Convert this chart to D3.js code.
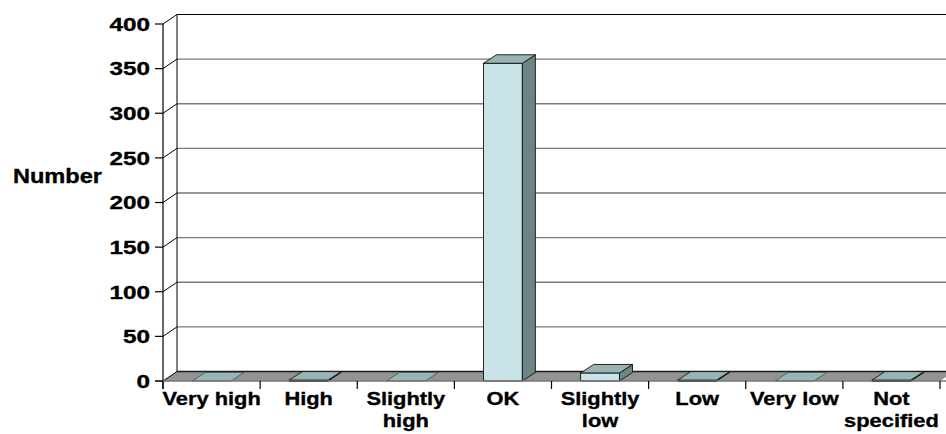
<!DOCTYPE html>
<html>
<head>
<meta charset="utf-8">
<script src="https://cdn.jsdelivr.net/npm/d3@7"></script>
<style>
  html, body { margin: 0; padding: 0; background: #fff; }
  svg { display: block; }
  text { font-family: "Liberation Sans", Arial, sans-serif; font-weight: bold; fill: #000; stroke: #000; stroke-width: 0.35px; }
</style>
</head>
<body>
<svg id="chart" width="946" height="434"></svg>
<script>
// Category names along the floor
const categories = ["Very high", "High", "Slightly high", "OK", "Slightly low", "Low", "Very low", "Not specified"];
// Count in each category
const values = [0, 1, 0, 356, 9, 1, 0, 1];
// Value axis ticks
const yTicks = [0, 50, 100, 150, 200, 250, 300, 350, 400];
const yTitle = "Number";

const W = 946, H = 434;
const plotLeft = 163, plotRight = 940, plotBase = 381, plotTop = 24;
const DX = 14, DY = -9.5;      // wall depth offset
const BDX = 13, BDY = -8.5;    // bar depth offset

const svg = d3.select("#chart");

const y = d3.scaleLinear().domain([0, 400]).range([plotBase, plotTop]);
const xCat = d3.scaleBand().domain(categories).range([plotLeft, plotRight]).padding(0);
const xBar = d3.scaleBand().domain(categories).range([plotLeft, plotRight]).paddingInner(0.6).paddingOuter(0.3);

const pts = a => a.map(p => p.join(",")).join(" ");

// back wall
svg.append("polygon")
  .attr("points", pts([[plotLeft + DX, y(400) + DY], [W + 20, y(400) + DY], [W + 20, plotBase + DY], [plotLeft + DX, plotBase + DY]]))
  .attr("fill", "#fff");

// gridlines on the back wall
svg.append("g").selectAll("line").data(yTicks.filter(v => v > 0 && v < 400)).join("line")
  .attr("x1", plotLeft + DX).attr("x2", W + 20)
  .attr("y1", v => y(v) + DY).attr("y2", v => y(v) + DY)
  .attr("stroke", "#7a7a7a").attr("stroke-width", 1.3);

// top edge of back wall
svg.append("line")
  .attr("x1", plotLeft + DX).attr("x2", W + 20)
  .attr("y1", y(400) + DY).attr("y2", y(400) + DY)
  .attr("stroke", "#000").attr("stroke-width", 1.2);

// left edge of back wall
svg.append("line")
  .attr("x1", plotLeft + DX).attr("x2", plotLeft + DX)
  .attr("y1", y(400) + DY).attr("y2", plotBase + DY)
  .attr("stroke", "#000").attr("stroke-width", 1);

// diagonals across the side wall
svg.append("g").selectAll("line").data(yTicks.filter(v => v > 0)).join("line")
  .attr("x1", plotLeft).attr("x2", plotLeft + DX)
  .attr("y1", v => y(v)).attr("y2", v => y(v) + DY)
  .attr("stroke", "#000").attr("stroke-width", 1);

// floor
svg.append("polygon")
  .attr("points", pts([[plotLeft, plotBase], [plotRight, plotBase], [plotRight + DX, plotBase + DY], [plotLeft + DX, plotBase + DY]]))
  .attr("fill", "#939393");
svg.append("line")
  .attr("x1", plotLeft + DX).attr("x2", plotRight + DX)
  .attr("y1", plotBase + DY).attr("y2", plotBase + DY)
  .attr("stroke", "#1a1a1a").attr("stroke-width", 1.6);
svg.append("line")
  .attr("x1", plotLeft).attr("x2", plotLeft + DX)
  .attr("y1", plotBase).attr("y2", plotBase + DY)
  .attr("stroke", "#000").attr("stroke-width", 1);

// bars
const data = categories.map((c, i) => ({ c, v: values[i] }));
const bars = svg.append("g").selectAll("g").data(data).join("g");
const bw = xBar.bandwidth();

bars.each(function (d) {
  const g = d3.select(this);
  const x0 = xBar(d.c), x1 = x0 + bw, yt = y(d.v);
  if (d.v > 0) {
    g.append("rect")
      .attr("x", x0).attr("y", yt).attr("width", bw).attr("height", plotBase - yt)
      .attr("fill", "#c8e4e8").attr("stroke", "#111").attr("stroke-width", 0.9);
    g.append("polygon")
      .attr("points", pts([[x1, yt], [x1 + BDX, yt + BDY], [x1 + BDX, plotBase + BDY], [x1, plotBase]]))
      .attr("fill", "#6c8587").attr("stroke", "#111").attr("stroke-width", 0.9);
  }
  g.append("polygon")
    .attr("points", pts([[x0, yt], [x1, yt], [x1 + BDX, yt + BDY], [x0 + BDX, yt + BDY]]))
    .attr("fill", "#98b4b4").attr("stroke", d.v > 0 ? "#111" : "#4a5a5a").attr("stroke-width", 0.9);
  if (d.v > 0 && plotBase - yt < 2) {
    g.append("line")
      .attr("x1", x0).attr("x2", x1).attr("y1", plotBase).attr("y2", plotBase)
      .attr("stroke", "#000").attr("stroke-width", 1.8);
  }
});

// front axes
svg.append("line")
  .attr("x1", plotLeft).attr("x2", plotLeft).attr("y1", y(400)).attr("y2", plotBase + 8)
  .attr("stroke", "#000").attr("stroke-width", 1.2);
svg.append("line")
  .attr("x1", plotLeft - 8).attr("x2", plotRight + 6).attr("y1", plotBase).attr("y2", plotBase)
  .attr("stroke", "#777").attr("stroke-width", 1.4);

// value ticks and labels
svg.append("g").selectAll("line").data(yTicks).join("line")
  .attr("x1", plotLeft - 8).attr("x2", plotLeft)
  .attr("y1", v => y(v)).attr("y2", v => y(v))
  .attr("stroke", "#000").attr("stroke-width", 1.2);
svg.append("g").selectAll("text").data(yTicks).join("text")
  .attr("transform", v => `translate(150,${y(v)}) scale(1.28,1)`)
  .attr("text-anchor", "end").attr("dy", "0.36em")
  .style("font-size", "19px")
  .text(v => v);

// category boundary ticks
const bounds = categories.map(c => xCat(c)).concat([plotRight]);
svg.append("g").selectAll("line").data(bounds).join("line")
  .attr("x1", b => b).attr("x2", b => b).attr("y1", plotBase).attr("y2", plotBase + 8)
  .attr("stroke", "#000").attr("stroke-width", 1.2);

// category labels, wrapped to the band width
const sx = 1.15, fs = 19;
const labels = svg.append("g").selectAll("text").data(categories).join("text")
  .attr("transform", c => `translate(${xCat(c) + xCat.bandwidth() / 2},405) scale(${sx},1)`)
  .attr("text-anchor", "middle")
  .style("font-size", fs + "px");
labels.each(function (c) {
  const t = d3.select(this);
  t.text(c);
  const w = this.getComputedTextLength() * sx;
  if (w > xCat.bandwidth() + 4 && c.includes(" ")) {
    const k = c.lastIndexOf(" ");
    t.text(null);
    t.append("tspan").attr("x", 0).attr("dy", 0).text(c.slice(0, k));
    t.append("tspan").attr("x", 0).attr("dy", 22).text(c.slice(k + 1));
  }
});

// value axis title
svg.append("text")
  .attr("transform", `translate(102,176) scale(1.18,1)`)
  .attr("text-anchor", "end").attr("dy", "0.36em")
  .style("font-size", "20px")
  .text(yTitle);
</script>
</body>
</html>
